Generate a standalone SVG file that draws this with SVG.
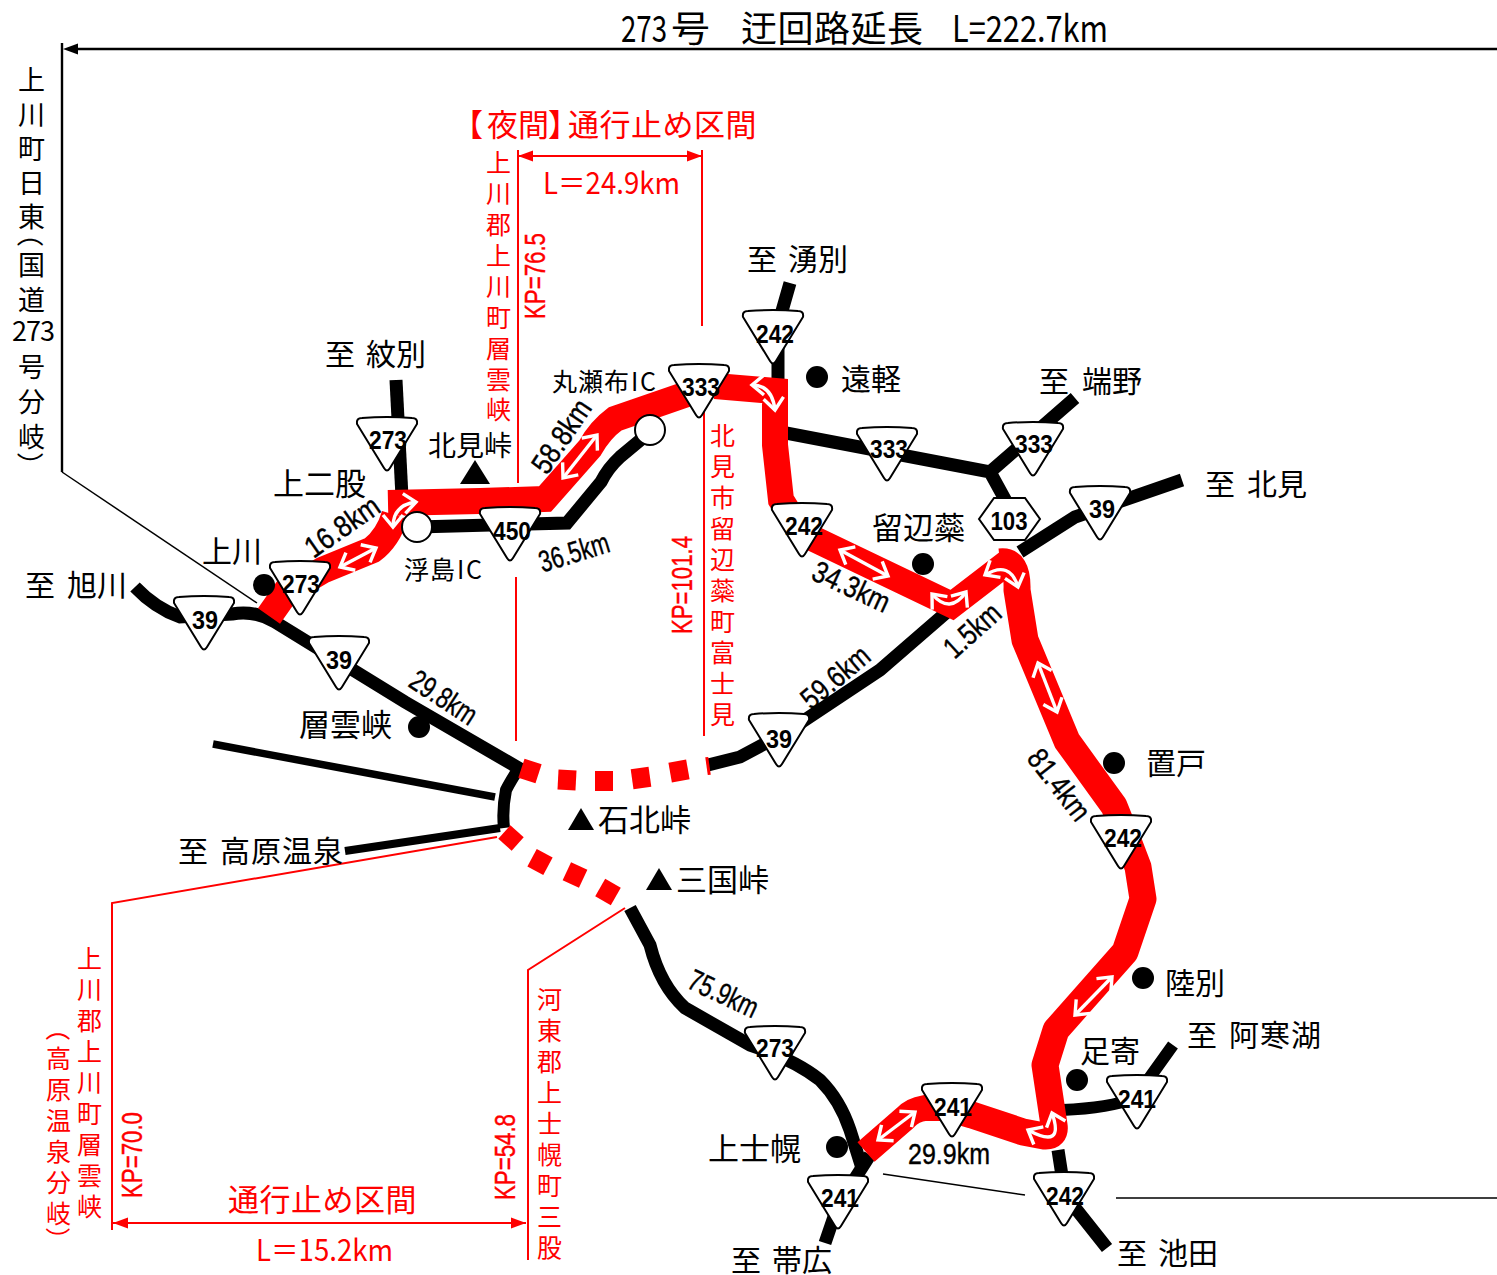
<svg xmlns="http://www.w3.org/2000/svg" width="1497" height="1275" viewBox="0 0 1497 1275">
<defs>
<style>
text{font-family:"Noto Sans CJK JP","Noto Sans",sans-serif;fill:#000;font-size:30px}
.r{fill:#f00}
.n{font-family:"Liberation Sans",Arial,sans-serif;font-weight:bold;font-size:26px;text-anchor:middle}
.k{font-family:"Liberation Sans",Arial,sans-serif;font-size:30px;text-anchor:middle;stroke:#000;stroke-width:.4}
.k.r{stroke:#f00}
.road{fill:none;stroke:#000;stroke-width:13}
.red{fill:none;stroke:#f00;stroke-width:26;stroke-linejoin:miter}
.thin{fill:none;stroke:#000;stroke-width:1.5}
.tk{fill:none;stroke:#000;stroke-width:2.4}
.rl{fill:none;stroke:#f00;stroke-width:2}
.w{fill:none;stroke:#fff;stroke-width:3.4;marker-start:url(#wa);marker-end:url(#wa)}
.d{fill:#f00}
.b{fill:#fff;stroke:#000;stroke-width:2}
</style>
<marker id="wa" markerUnits="userSpaceOnUse" orient="auto-start-reverse" markerWidth="18" markerHeight="26" refX="14" refY="13" viewBox="0 0 18 26"><path d="M2 3L14 13L2 23" fill="none" stroke="#fff" stroke-width="3.4"/></marker>
<marker id="ra" markerUnits="userSpaceOnUse" orient="auto-start-reverse" markerWidth="16" markerHeight="12" refX="15" refY="6"><path d="M0 .5L15 6L0 11.5Z" fill="#f00"/></marker>
<path id="tri" d="M-25 0Q0-2 25 0Q31 0 30 6L3 50Q0 55-3 50L-30 6Q-31 0-25 0Z"/>
</defs>
<rect width="1497" height="1275" fill="#fff"/>
<g id="connectors">
<path class="tk" d="M1497 49H70M62 43V472"/>
<path class="thin" d="M62 472L257 603"/>
<path d="M78 43.5L63 49L78 54.5Z"/>
<path class="thin" d="M883 1174L1025 1195M1116 1198H1497"/>
<path class="road" d="M135 587Q155 608 180 617L232 614Q255 610 275 622L340 662L405 702L522 770"/>
<path class="road" d="M519 768Q510 782 506 790Q502 810 504 828" style="stroke-width:12"/>
<path class="road" d="M213 744L495 797" style="stroke-width:7.5"/>
<path class="road" d="M345 851L500 828" style="stroke-width:8"/>
<path class="road" d="M396 380L402 497"/>
<path class="road" d="M417 527L567 523L601 482Q608 468 620 457L650 432"/>
<path class="road" d="M708 765L740 757L790 730L880 670L955 605"/>
<path class="road" d="M1020 552L1075 517L1182 480"/>
<path class="road" d="M786 433L990 472L1075 398M990 472L1007 503"/>
<path class="road" d="M790 283L778 325V382"/>
<path class="road" d="M630 908L650 945Q660 985 685 1008L750 1045Q795 1060 820 1080Q840 1100 850 1130L862 1168"/>
<path class="road" d="M870 1155L838 1205L825 1243"/>
<path class="road" d="M1062 1110Q1110 1108 1135 1098L1173 1045" style="stroke-width:12"/>
<path class="road" d="M1058 1150L1065 1195L1107 1248"/>
<path fill="none" stroke="#fff" stroke-width="30" d="M530 500L545 499L590 448Q600 430 615 419L640 410"/>
<path class="red" d="M269 616L286 592L323 570L372 550Q388 538 395 515" style="stroke-width:27"/>
<path class="red" d="M388 503L480 501L545 499L590 448Q600 430 615 419L690 393"/>
<path class="red" d="M715 386L775 391V445L781 500L806 540"/>
<path class="red" d="M812 538L952 605L1008 562"/>
<path class="red" d="M1000 562Q1018 560 1017 590L1025 640L1067 741L1114 806L1130 846L1138 867L1143 899L1125 952L1056 1030L1045 1065L1054 1125Q1056 1137 1044 1136L1023 1132L972 1115L955 1110" style="stroke-linejoin:round;stroke-width:27"/>
<path class="red" d="M950 1108L925 1108Q912 1110 905 1118L866 1152"/>
<rect class="d" x="-9" y="-10" width="18" height="20" transform="translate(530 771) rotate(18)"/>
<rect class="d" x="-9" y="-10" width="18" height="20" transform="translate(567 780) rotate(3)"/>
<rect class="d" x="-9" y="-10" width="18" height="20" transform="translate(604 781) rotate(0)"/>
<rect class="d" x="-9" y="-10" width="18" height="20" transform="translate(641 778) rotate(-8)"/>
<rect class="d" x="-9" y="-10" width="18" height="20" transform="translate(679 771) rotate(-10)"/>
<rect class="d" x="-1.5" y="-9" width="3" height="18" transform="translate(708 766) rotate(-8)"/>
<rect class="d" x="-9" y="-9" width="18" height="18" transform="translate(511 838) rotate(42)"/>
<rect class="d" x="-9" y="-10" width="18" height="20" transform="translate(540 862) rotate(28)"/>
<rect class="d" x="-9" y="-10" width="18" height="20" transform="translate(575 875) rotate(25)"/>
<rect class="d" x="-9" y="-10" width="18" height="20" transform="translate(608 892) rotate(30)"/>
<path class="w" d="M340 567L376 548"/>
<path class="w" d="M563 478L597 435"/>
<path class="w" d="M840 550L888 576"/>
<path class="w" d="M1038 663L1057 712"/>
<path class="w" d="M1112 977L1075 1015"/>
<path class="w" d="M878 1140L915 1112"/>
<path class="w" d="M393 527Q393 505 416 502"/>
<path class="w" d="M752 385Q772 385 775 410"/>
<path class="w" d="M932 594Q950 615 966 592"/>
<path class="w" d="M985 575Q1010 560 1018 587"/>
<path class="w" d="M1028 1130Q1065 1150 1052 1113"/>
<path class="rl" d="M518 150V483M702 150V326M516 577V741M704 405V736M497 837L112 903V1230M625 908L528 970V1260"/>
<path class="rl" d="M518 156H702" marker-start="url(#ra)" marker-end="url(#ra)"/>
<path class="rl" d="M113 1223H526" marker-start="url(#ra)" marker-end="url(#ra)"/>
</g>
<g id="ic-ukishima"><circle class="b" cx="417" cy="527" r="15"/></g>
<g id="ic-maruseppu"><circle class="b" cx="650" cy="430" r="15"/></g>
<g id="r273a"><use href="#tri" class="b" x="387" y="418"/><text class="n" x="388" y="449" textLength="38" lengthAdjust="spacingAndGlyphs">273</text></g>
<g id="r273b"><use href="#tri" class="b" x="300" y="562"/><text class="n" x="301" y="593" textLength="38" lengthAdjust="spacingAndGlyphs">273</text></g>
<g id="r39a"><use href="#tri" class="b" x="204" y="597"/><text class="n" x="205" y="629" textLength="26" lengthAdjust="spacingAndGlyphs">39</text></g>
<g id="r39b"><use href="#tri" class="b" x="339" y="637"/><text class="n" x="339" y="669" textLength="26" lengthAdjust="spacingAndGlyphs">39</text></g>
<g id="r450"><use href="#tri" class="b" x="510" y="508"/><text class="n" x="512" y="540" textLength="38" lengthAdjust="spacingAndGlyphs">450</text></g>
<g id="r333a"><use href="#tri" class="b" x="699" y="365"/><text class="n" x="701" y="396" textLength="38" lengthAdjust="spacingAndGlyphs">333</text></g>
<g id="r242a"><use href="#tri" class="b" x="773" y="311"/><text class="n" x="775" y="343" textLength="38" lengthAdjust="spacingAndGlyphs">242</text></g>
<g id="r333b"><use href="#tri" class="b" x="887" y="428"/><text class="n" x="889" y="458" textLength="38" lengthAdjust="spacingAndGlyphs">333</text></g>
<g id="r333c"><use href="#tri" class="b" x="1033" y="423"/><text class="n" x="1034" y="453" textLength="38" lengthAdjust="spacingAndGlyphs">333</text></g>
<g id="r39c"><use href="#tri" class="b" x="1100" y="487"/><text class="n" x="1102" y="518" textLength="26" lengthAdjust="spacingAndGlyphs">39</text></g>
<g id="r242b"><use href="#tri" class="b" x="802" y="504"/><text class="n" x="804" y="535" textLength="38" lengthAdjust="spacingAndGlyphs">242</text></g>
<g id="r103"><path class="b" d="M979 519L994 498H1025L1040 519L1025 540H994Z"/><text class="n" x="1009" y="530" textLength="37" lengthAdjust="spacingAndGlyphs">103</text></g>
<g id="r39d"><use href="#tri" class="b" x="779" y="714"/><text class="n" x="779" y="748" textLength="26" lengthAdjust="spacingAndGlyphs">39</text></g>
<g id="r242c"><use href="#tri" class="b" x="1121" y="816"/><text class="n" x="1123" y="847" textLength="38" lengthAdjust="spacingAndGlyphs">242</text></g>
<g id="r273c"><use href="#tri" class="b" x="775" y="1027"/><text class="n" x="775" y="1057" textLength="38" lengthAdjust="spacingAndGlyphs">273</text></g>
<g id="r241a"><use href="#tri" class="b" x="952" y="1084"/><text class="n" x="953" y="1116" textLength="38" lengthAdjust="spacingAndGlyphs">241</text></g>
<g id="r241b"><use href="#tri" class="b" x="1137" y="1076"/><text class="n" x="1137" y="1108" textLength="38" lengthAdjust="spacingAndGlyphs">241</text></g>
<g id="r241c"><use href="#tri" class="b" x="838" y="1176"/><text class="n" x="840" y="1207" textLength="38" lengthAdjust="spacingAndGlyphs">241</text></g>
<g id="r242d"><use href="#tri" class="b" x="1064" y="1173"/><text class="n" x="1065" y="1205" textLength="38" lengthAdjust="spacingAndGlyphs">242</text></g>
<g id="dots">
<circle cx="264" cy="585" r="11"/><circle cx="419" cy="727" r="11"/><circle cx="817" cy="377" r="11"/><circle cx="923" cy="564" r="11"/><circle cx="1114" cy="763" r="11"/><circle cx="1143" cy="978" r="11"/><circle cx="1077" cy="1080" r="11"/><circle cx="837" cy="1147" r="11"/>
<path d="M475 460L490 484H460Z"/><path d="M581 808L594 830H568Z"/><path d="M659 868L672 890H646Z"/>
</g>
<g id="labels">
<text style="font-size:37px" x="621" y="42" textLength="46" lengthAdjust="spacingAndGlyphs">273</text>
<text style="font-size:36px" x="671" y="42" textLength="39" lengthAdjust="spacingAndGlyphs">号</text>
<text style="font-size:36px" x="741 777.5 814 850.5 887" y="42">迂回路延長</text>
<text style="font-size:37px" x="952" y="42" textLength="156" lengthAdjust="spacingAndGlyphs">L=222.7km</text>
<text style="font-size:27px" x="18 18 18 18 18 20 18 18 12 26 40 18 18 18 20" y="90 125 159 193 227 220 275 310 341 341 341 377 412 447 452" rotate="0 0 0 0 0 90 0 0 0 0 0 0 0 0 90">上川町日東（国道273号分岐）</text>
<text class="r" style="font-size:31px" x="452 487 518 548 568 599.5 631 662.5 694 725.5" y="136">【夜間】通行止め区間</text>
<text class="r" x="543" y="194" textLength="137" lengthAdjust="spacingAndGlyphs">L＝24.9km</text>
<text class="r" style="font-size:31px" x="228 259.5 291 322.5 354 385.5" y="1211">通行止め区間</text>
<text class="r" x="256" y="1261" textLength="137" lengthAdjust="spacingAndGlyphs">L＝15.2km</text>
<text class="r" style="font-size:25px" x="486 486 486 486 486 486 486 486 486" y="172 203 234 265 296 327 358 389 419">上川郡上川町層雲峡</text>
<text class="r" style="font-size:25px" x="710 710 710 710 710 710 710 710 710 710" y="445 476 507 538 569 600 631 662 693 724">北見市留辺蘂町富士見</text>
<text class="r" style="font-size:25px" x="537 537 537 537 537 537 537 537 537" y="1009 1040 1071 1102 1133 1164 1195 1226 1257">河東郡上士幌町三股</text>
<text class="r" style="font-size:25px" x="77 77 77 77 77 77 77 77 77" y="968 999 1030 1061 1092 1123 1154 1185 1216">上川郡上川町層雲峡</text>
<text class="r" style="font-size:25px" x="48 46 46 46 46 46 46 48" y="1016 1068 1099 1130 1161 1192 1223 1227" rotate="90 0 0 0 0 0 0 90">（高原温泉分岐）</text>
<text class="k r" transform="translate(545 276) rotate(-90)" textLength="86" lengthAdjust="spacingAndGlyphs">KP=76.5</text>
<text class="k r" transform="translate(692 585) rotate(-90)" textLength="98" lengthAdjust="spacingAndGlyphs">KP=101.4</text>
<text class="k r" transform="translate(142 1155) rotate(-90)" textLength="86" lengthAdjust="spacingAndGlyphs">KP=70.0</text>
<text class="k r" transform="translate(515 1157) rotate(-90)" textLength="86" lengthAdjust="spacingAndGlyphs">KP=54.8</text>
<text x="747 777 788 818" y="270">至 湧別</text>
<text x="325 355 366 396" y="365">至 紋別</text>
<text x="25 55 67 97" y="596">至 旭川</text>
<text x="1039 1069 1082 1112" y="392">至 端野</text>
<text x="1205 1235 1247 1277" y="495">至 北見</text>
<text x="731 761 772 802" y="1271">至 帯広</text>
<text x="1117 1147 1158 1188" y="1264">至 池田</text>
<text x="1187 1217 1229 1260 1291" y="1046">至 阿寒湖</text>
<text x="178 208 220 251 282 313" y="862">至 高原温泉</text>
<text style="font-size:28px" x="428" y="456">北見峠</text>
<text style="font-size:31px" x="273" y="495">上二股</text>
<text x="202" y="562">上川</text>
<text style="font-size:25px" x="552 578 604 631 640" y="391">丸瀬布IC</text>
<text style="font-size:25px" x="404 430 457 466" y="579">浮島IC</text>
<text x="841" y="390">遠軽</text>
<text style="font-size:31px" x="872" y="539">留辺蘂</text>
<text x="1146" y="774">置戸</text>
<text x="1165" y="994">陸別</text>
<text x="1080" y="1062">足寄</text>
<text style="font-size:31px" x="708" y="1160">上士幌</text>
<text style="font-size:31px" x="299" y="736">層雲峡</text>
<text style="font-size:31px" x="598" y="831">石北峠</text>
<text style="font-size:31px" x="676" y="891">三国峠</text>
<text class="k" transform="translate(348 535) rotate(-35)" textLength="84" lengthAdjust="spacingAndGlyphs">16.8km</text>
<text class="k" transform="translate(570 442) rotate(-56)" textLength="82" lengthAdjust="spacingAndGlyphs">58.8km</text>
<text class="k" transform="translate(577 562) rotate(-17)" textLength="72" lengthAdjust="spacingAndGlyphs">36.5km</text>
<text class="k" transform="translate(847 596) rotate(25)" textLength="82" lengthAdjust="spacingAndGlyphs">34.3km</text>
<text class="k" transform="translate(979 638) rotate(-42)" textLength="66" lengthAdjust="spacingAndGlyphs">1.5km</text>
<text class="k" transform="translate(438 706) rotate(33)" textLength="74" lengthAdjust="spacingAndGlyphs">29.8km</text>
<text class="k" transform="translate(842 685) rotate(-40)" textLength="80" lengthAdjust="spacingAndGlyphs">59.6km</text>
<text class="k" transform="translate(1051 791) rotate(52)" textLength="82" lengthAdjust="spacingAndGlyphs">81.4km</text>
<text class="k" transform="translate(719 1003) rotate(25)" textLength="74" lengthAdjust="spacingAndGlyphs">75.9km</text>
<text class="k" x="949" y="1164" textLength="82" lengthAdjust="spacingAndGlyphs">29.9km</text>
</g>
</svg>
